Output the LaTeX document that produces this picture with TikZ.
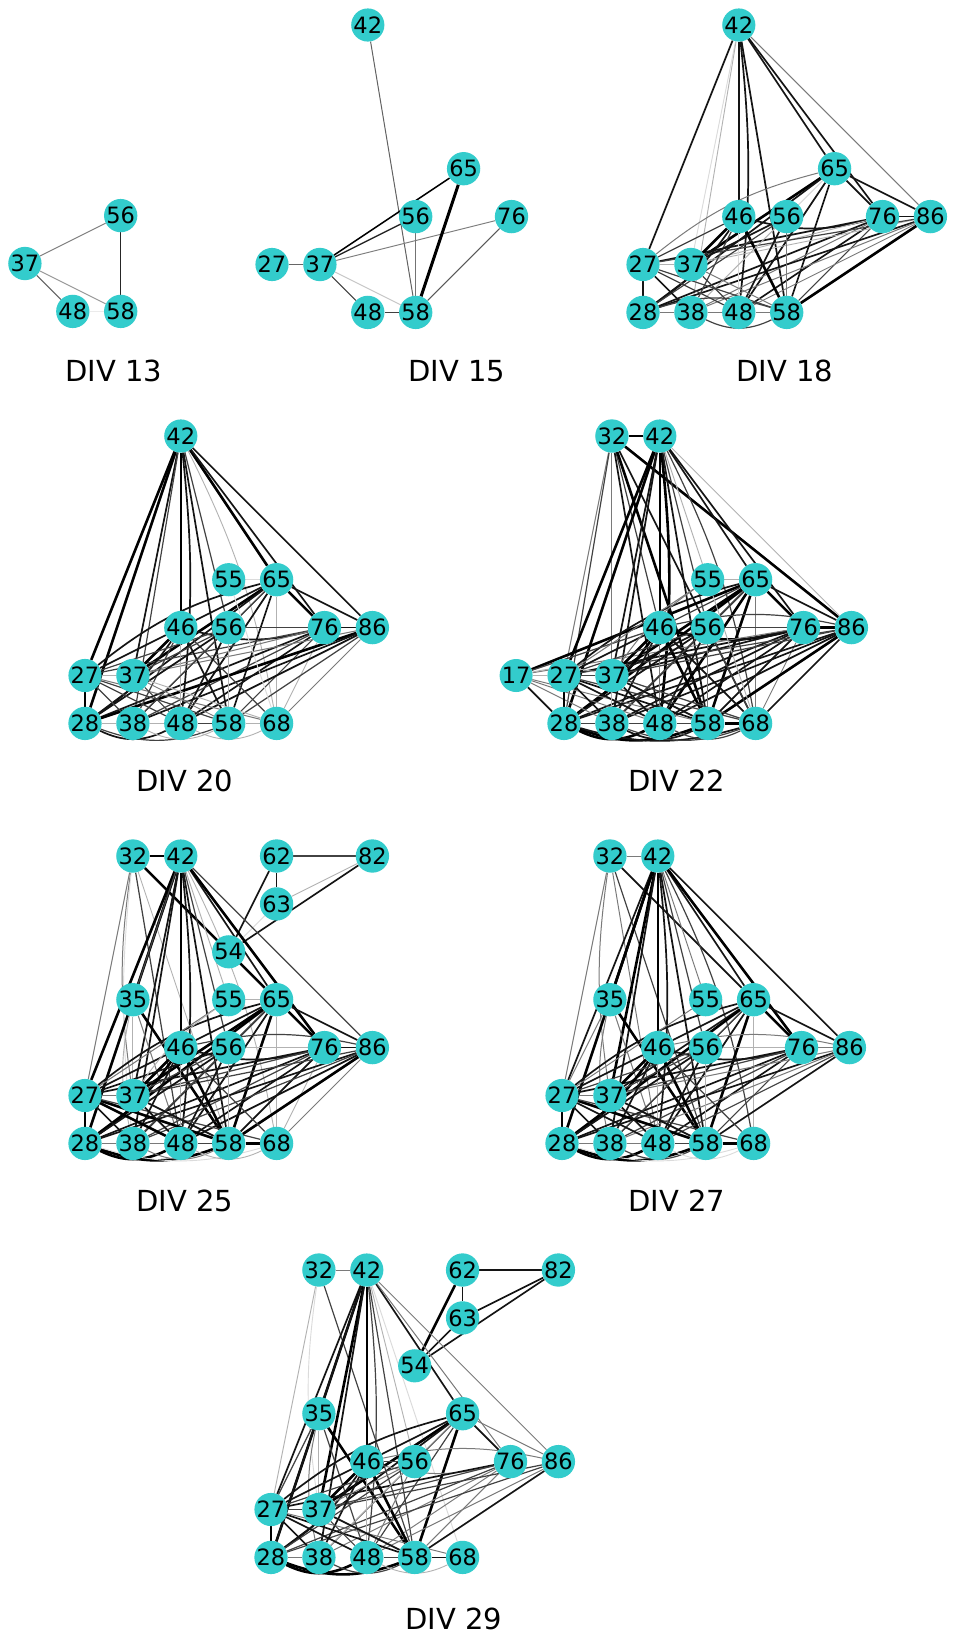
\documentclass[tikz,border=0pt]{standalone}
\usepackage{fontspec}
\setmainfont{DejaVu Sans}
\pgfdeclarelayer{bgl}
\pgfdeclarelayer{edges}
\pgfsetlayers{bgl,edges,main}
\definecolor{turq}{RGB}{51,204,204}
\tikzset{
 nd/.style={circle,fill=turq,inner sep=0pt,minimum size=30.5pt,font=\fontsize{22.5}{23}\selectfont,text=black},
 lab/.style={font=\fontsize{29}{30}\selectfont,anchor=base},
 e1/.style={line width=2.6pt,black},
 e2/.style={line width=1.7pt,black!92},
 e3/.style={line width=1.2pt,black!74},
 e4/.style={line width=1pt,black!52},
 e5/.style={line width=0.9pt,black!30},
 e6/.style={line width=0.9pt,black!14},
}
\newcommand\pfx{a}
\newcommand\oxx{0}
\newcommand\oyy{0}
\newcommand\nod[2]{\node[nd] (\pfx#1#2) at ({\oxx+(#1-2)*47.9},{-(\oyy+(#2-2)*47.9)}) {#1#2};}
\newcommand\edg[3]{\draw[#1] (\pfx#2) -- (\pfx#3);}
\newcommand\bnd[4]{\draw[#2] (\pfx#3) to[bend #1] (\pfx#4);}
\begin{document}
\begin{tikzpicture}[x=1pt,y=1pt]
\useasboundingbox (0,0) rectangle (957,-1639);
\begin{pgfonlayer}{bgl}
\fill[white] (0,0) rectangle (957,-1639);
\end{pgfonlayer}
% ---------------- DIV 13
\renewcommand\pfx{a}\renewcommand\oxx{-23}\renewcommand\oyy{24}
\nod56\nod37\nod48\nod58
\begin{pgfonlayer}{edges}
\draw[line width=1pt,black!50] (a37) -- (a56);
\draw[line width=1pt,black!40] (a37) -- (a58);
\draw[line width=1.1pt,black!62] (a37) -- (a48);
\draw[line width=1.4pt,black!8] (a48) -- (a58);
\draw[line width=1.3pt,black!85] (a56) -- (a58);
\end{pgfonlayer}
\node[lab] (l13) at (114,-381) {DIV 13};
% ---------------- DIV 15
\renewcommand\pfx{b}\renewcommand\oxx{272}\renewcommand\oyy{25}
\nod42\nod65\nod56\nod76\nod27\nod37\nod48\nod58
\begin{pgfonlayer}{edges}
\draw[line width=1pt,black!62] (b42) -- (b58);
\draw[line width=1.5pt,black] (b37) -- (b65);
\draw[line width=1.3pt,black!85] (b37) -- (b56);
\draw[line width=1pt,black!50] (b37) -- (b76);
\draw[line width=1pt,black!60] (b27) -- (b37);
\draw[line width=1pt,black!22] (b37) -- (b58);
\draw[line width=1.2pt,black!75] (b37) -- (b48);
\draw[line width=1.2pt,black!75] (b48) -- (b58);
\draw[line width=1.1pt,black!55] (b56) -- (b58);
\draw[line width=3pt,black] (b58) -- (b65);
\draw[line width=1pt,black!65] (b58) -- (b76);
\end{pgfonlayer}
\node[lab] (l15) at (457,-381) {DIV 15};
% ---------------- DIV 18
\renewcommand\pfx{c}\renewcommand\oxx{643}\renewcommand\oyy{25}
\nod42\nod65\nod46\nod56\nod76\nod86\nod27\nod37\nod28\nod38\nod48\nod58
\begin{pgfonlayer}{edges}
\edg{e2}{42}{27}\edg{e6}{42}{37}\edg{e5}{42}{38}\edg{e2}{42}{46}
\bnd{left=6}{e2}{42}{48}\edg{e2}{42}{58}\edg{e2}{42}{65}\edg{e2}{42}{76}\edg{e4}{42}{86}
\bnd{left=12}{e4}{27}{65}\edg{e1}{65}{37}\edg{e2}{65}{28}\edg{e6}{65}{38}\edg{e2}{65}{48}
\edg{e2}{65}{58}\edg{e2}{65}{76}\edg{e2}{65}{86}\edg{e6}{65}{56}
\edg{e2}{76}{86}\bnd{right=14}{e2}{46}{76}\edg{e2}{76}{27}\edg{e5}{76}{37}\edg{e2}{76}{28}
\edg{e4}{76}{38}\edg{e2}{76}{48}\edg{e3}{76}{58}
\edg{e2}{86}{28}\edg{e5}{86}{37}\edg{e4}{86}{38}\edg{e4}{86}{48}\edg{e1}{86}{58}\edg{e3}{86}{27}
\edg{e1}{46}{37}\bnd{right=10}{e2}{28}{46}\edg{e3}{46}{38}\edg{e1}{46}{58}\edg{e6}{46}{48}\edg{e3}{46}{27}
\edg{e2}{56}{37}\edg{e3}{56}{28}\edg{e2}{56}{48}\edg{e4}{56}{58}\edg{e5}{56}{38}
\edg{e2}{27}{28}\edg{e5}{27}{37}\edg{e2}{27}{38}\edg{e3}{27}{48}\edg{e3}{27}{58}
\edg{e4}{28}{38}\bnd{left=17}{e3}{28}{58}\bnd{right=26}{e3}{38}{58}\edg{e4}{38}{48}\edg{e4}{48}{58}
\edg{e3}{37}{48}\edg{e4}{37}{58}
\end{pgfonlayer}
\node[lab] (l18) at (785,-381) {DIV 18};
% ---------------- DIV 20
\renewcommand\pfx{d}\renewcommand\oxx{85}\renewcommand\oyy{436}
\nod42\nod55\nod65\nod46\nod56\nod76\nod86\nod27\nod37\nod28\nod38\nod48\nod58\nod68
\begin{pgfonlayer}{edges}
\edg{e1}{42}{27}\edg{e1}{42}{28}\edg{e2}{42}{37}\edg{e3}{42}{38}\edg{e1}{42}{46}
\bnd{left=6}{e2}{42}{48}\edg{e2}{42}{58}\edg{e3}{42}{56}\bnd{left=8}{e5}{42}{68}
\edg{e1}{42}{65}\edg{e2}{42}{76}\edg{e2}{42}{86}
\edg{e6}{55}{65}\bnd{left=12}{e2}{27}{65}\edg{e1}{65}{37}\edg{e2}{65}{28}\edg{e2}{65}{46}
\edg{e3}{65}{56}\edg{e3}{65}{38}\edg{e2}{65}{48}\edg{e2}{65}{58}\edg{e5}{65}{68}
\edg{e1}{65}{76}\edg{e2}{65}{86}
\edg{e2}{76}{86}\edg{e3}{76}{56}\bnd{right=14}{e2}{46}{76}\edg{e3}{76}{27}\edg{e4}{76}{37}
\edg{e2}{76}{28}\edg{e3}{76}{38}\edg{e2}{76}{48}\edg{e3}{76}{58}\edg{e5}{76}{68}
\edg{e1}{86}{28}\edg{e2}{86}{38}\edg{e2}{86}{48}\edg{e3}{86}{58}\edg{e4}{86}{68}\edg{e4}{86}{37}
\edg{e2}{46}{27}\edg{e1}{46}{37}\bnd{right=10}{e2}{28}{46}\edg{e3}{46}{38}\edg{e5}{46}{48}
\edg{e2}{46}{58}\edg{e3}{46}{68}
\edg{e3}{56}{27}\edg{e3}{56}{37}\edg{e2}{56}{28}\edg{e2}{56}{48}\edg{e5}{56}{58}\edg{e3}{56}{38}
\edg{e6}{55}{68}
\edg{e1}{27}{28}\edg{e5}{27}{37}\edg{e3}{27}{38}\edg{e3}{27}{48}\edg{e3}{27}{58}\edg{e4}{27}{68}
\edg{e5}{28}{38}\bnd{right=26}{e2}{28}{48}\bnd{right=20}{e3}{28}{58}
\edg{e3}{37}{48}\edg{e4}{37}{58}\edg{e5}{37}{68}
\edg{e5}{38}{48}\bnd{right=26}{e5}{38}{58}\edg{e3}{48}{58}\edg{e5}{58}{68}\bnd{right=26}{e5}{48}{68}
\end{pgfonlayer}
\node[lab] (l20) at (185,-791) {DIV 20};
% ---------------- DIV 22
\renewcommand\pfx{e}\renewcommand\oxx{564}\renewcommand\oyy{436}
\nod32\nod42\nod55\nod65\nod46\nod56\nod76\nod86\nod17\nod27\nod37\nod28\nod38\nod48\nod58\nod68
\begin{pgfonlayer}{edges}
\edg{e1}{32}{42}\edg{e4}{32}{27}\edg{e3}{32}{28}\edg{e4}{32}{37}\edg{e3}{32}{46}
\edg{e2}{32}{48}\edg{e1}{32}{58}\edg{e2}{32}{68}\edg{e1}{32}{86}
\edg{e1}{42}{27}\edg{e1}{42}{28}\edg{e2}{42}{37}\edg{e2}{42}{38}\edg{e1}{42}{46}
\bnd{left=6}{e1}{42}{48}\edg{e2}{42}{58}\edg{e3}{42}{56}\edg{e5}{42}{55}\bnd{left=8}{e3}{42}{68}
\edg{e2}{42}{65}\edg{e2}{42}{76}\edg{e5}{42}{86}
\edg{e5}{55}{65}\edg{e1}{17}{65}\bnd{left=12}{e2}{27}{65}\edg{e1}{65}{37}\edg{e1}{65}{28}
\edg{e2}{65}{38}\edg{e1}{65}{48}\edg{e1}{65}{58}\edg{e4}{65}{68}\edg{e1}{65}{76}\edg{e2}{65}{86}
\edg{e3}{65}{46}\edg{e3}{65}{56}
\edg{e1}{76}{86}\bnd{right=14}{e1}{46}{76}\edg{e3}{76}{56}\edg{e2}{76}{27}\edg{e2}{76}{37}
\edg{e2}{76}{28}\edg{e2}{76}{38}\edg{e2}{76}{48}\edg{e2}{76}{58}\edg{e4}{76}{68}\edg{e4}{76}{17}
\edg{e2}{86}{28}\edg{e2}{86}{38}\edg{e2}{86}{48}\edg{e1}{86}{58}\edg{e2}{86}{68}\edg{e3}{86}{37}
\edg{e3}{86}{27}\bnd{left=12}{e3}{46}{86}
\edg{e3}{46}{17}\edg{e2}{46}{27}\edg{e1}{46}{37}\bnd{right=10}{e1}{28}{46}\edg{e2}{46}{38}
\edg{e4}{46}{48}\edg{e1}{46}{58}\edg{e2}{46}{68}
\edg{e3}{56}{27}\edg{e2}{56}{37}\edg{e2}{56}{28}\edg{e3}{56}{38}\edg{e2}{56}{48}\edg{e4}{56}{58}
\edg{e3}{56}{68}
\edg{e4}{55}{27}\bnd{left=10}{e4}{37}{55}\edg{e5}{55}{68}
\edg{e5}{17}{27}\bnd{left=12}{e5}{17}{37}\edg{e2}{17}{28}\edg{e4}{17}{38}\edg{e4}{17}{48}\edg{e4}{17}{58}
\edg{e1}{27}{28}\edg{e3}{27}{37}\edg{e2}{27}{38}\edg{e2}{27}{48}\edg{e2}{27}{58}\edg{e3}{27}{68}
\edg{e5}{37}{38}\edg{e2}{37}{48}\edg{e2}{37}{58}\edg{e3}{37}{68}
\edg{e3}{28}{38}\bnd{right=26}{e1}{28}{48}\bnd{right=20}{e1}{28}{58}\bnd{right=16}{e2}{28}{68}
\edg{e3}{38}{48}\bnd{right=26}{e2}{38}{58}\bnd{right=20}{e3}{38}{68}
\edg{e3}{48}{58}\bnd{right=26}{e3}{48}{68}\edg{e1}{58}{68}
\end{pgfonlayer}
\node[lab] (l22) at (677,-791) {DIV 22};
% ---------------- DIV 25
\renewcommand\pfx{f}\renewcommand\oxx{85}\renewcommand\oyy{856}
\nod32\nod42\nod62\nod82\nod63\nod54\nod35\nod55\nod65\nod46\nod56\nod76\nod86
\nod27\nod37\nod28\nod38\nod48\nod58\nod68
\begin{pgfonlayer}{edges}
\edg{e3}{62}{82}\edg{e2}{62}{63}\edg{e2}{62}{54}\edg{e5}{63}{82}\edg{e2}{54}{82}\edg{e6}{54}{63}
\edg{e1}{32}{42}\edg{e4}{32}{27}\bnd{right=8}{e4}{32}{37}\edg{e3}{32}{48}\edg{e1}{32}{65}
\edg{e5}{32}{58}\bnd{right=6}{e6}{32}{38}
\edg{e1}{42}{27}\edg{e1}{42}{28}\edg{e3}{42}{35}\edg{e2}{42}{37}\edg{e2}{42}{38}\edg{e1}{42}{46}
\bnd{left=6}{e2}{42}{48}\edg{e2}{42}{58}\edg{e3}{42}{56}\edg{e5}{42}{55}\bnd{left=8}{e5}{42}{68}
\edg{e2}{42}{65}\edg{e1}{42}{76}\edg{e3}{42}{86}
\edg{e1}{35}{58}\edg{e5}{35}{37}\bnd{right=12}{e5}{35}{38}\edg{e4}{35}{48}
\edg{e5}{55}{65}\bnd{left=12}{e2}{27}{65}\edg{e1}{65}{37}\edg{e1}{65}{28}\edg{e2}{65}{38}
\edg{e2}{65}{46}\edg{e3}{65}{56}\edg{e2}{65}{48}\edg{e1}{65}{58}\edg{e5}{65}{68}\edg{e1}{65}{76}
\edg{e2}{65}{86}
\edg{e2}{76}{86}\bnd{right=14}{e2}{46}{76}\edg{e5}{76}{56}\edg{e2}{76}{27}\edg{e3}{76}{37}
\edg{e2}{76}{28}\edg{e3}{76}{38}\edg{e2}{76}{48}\edg{e2}{76}{58}\edg{e5}{76}{68}
\edg{e2}{86}{28}\edg{e3}{86}{38}\edg{e2}{86}{48}\edg{e1}{86}{58}\edg{e4}{86}{68}\edg{e3}{86}{37}
\bnd{left=12}{e3}{46}{86}
\edg{e2}{46}{27}\edg{e1}{46}{37}\bnd{right=10}{e1}{28}{46}\edg{e2}{46}{38}\edg{e1}{46}{58}
\edg{e5}{46}{48}\edg{e3}{46}{68}
\edg{e2}{56}{27}\edg{e3}{56}{37}\edg{e2}{56}{28}\edg{e3}{56}{38}\edg{e2}{56}{48}\edg{e5}{56}{58}
\edg{e4}{55}{27}\bnd{left=10}{e5}{37}{55}
\edg{e1}{27}{28}\edg{e4}{27}{37}\edg{e2}{27}{38}\edg{e1}{27}{48}\edg{e1}{27}{58}\edg{e3}{27}{68}
\edg{e4}{28}{38}\bnd{right=26}{e1}{28}{48}\bnd{right=20}{e1}{28}{58}\bnd{right=16}{e6}{28}{68}
\edg{e2}{37}{48}\edg{e2}{37}{58}\edg{e4}{38}{48}\bnd{right=26}{e4}{38}{58}
\edg{e3}{48}{58}\edg{e1}{58}{68}\bnd{right=26}{e5}{48}{68}
\end{pgfonlayer}
\node[lab] (l25) at (185,-1211) {DIV 25};
% ---------------- DIV 27
\renewcommand\pfx{g}\renewcommand\oxx{562}\renewcommand\oyy{856}
\nod32\nod42\nod35\nod55\nod65\nod46\nod56\nod76\nod86\nod27\nod37\nod28\nod38\nod48\nod58\nod68
\begin{pgfonlayer}{edges}
\edg{e4}{32}{42}\edg{e4}{32}{27}\bnd{right=8}{e4}{32}{37}\edg{e2}{32}{65}\edg{e3}{32}{58}\edg{e4}{32}{48}
\edg{e2}{42}{27}\edg{e1}{42}{28}\edg{e1}{42}{35}\edg{e1}{42}{37}\edg{e2}{42}{38}\edg{e1}{42}{46}
\bnd{left=6}{e2}{42}{48}\edg{e2}{42}{58}\edg{e3}{42}{56}\edg{e4}{42}{55}\bnd{left=8}{e3}{42}{68}
\edg{e2}{42}{65}\edg{e1}{42}{76}\edg{e2}{42}{86}
\edg{e4}{35}{27}\edg{e1}{35}{58}\bnd{right=12}{e4}{35}{38}\edg{e4}{35}{48}
\bnd{left=12}{e2}{27}{65}\edg{e2}{65}{37}\edg{e1}{65}{28}\edg{e3}{65}{38}\edg{e2}{65}{46}
\edg{e3}{65}{56}\edg{e2}{65}{48}\edg{e1}{65}{58}\edg{e5}{65}{68}\edg{e1}{65}{76}\edg{e2}{65}{86}
\edg{e4}{76}{86}\bnd{right=14}{e2}{46}{76}\edg{e5}{76}{56}\edg{e2}{76}{27}\edg{e3}{76}{37}
\edg{e2}{76}{28}\edg{e3}{76}{38}\edg{e2}{76}{48}\edg{e3}{76}{58}
\edg{e2}{86}{28}\edg{e4}{86}{38}\edg{e3}{86}{48}\edg{e2}{86}{58}\edg{e4}{86}{37}
\bnd{left=12}{e4}{46}{86}
\edg{e2}{46}{27}\edg{e1}{46}{37}\bnd{right=10}{e1}{28}{46}\edg{e2}{46}{38}\edg{e1}{46}{58}
\edg{e5}{46}{48}\edg{e3}{46}{68}
\edg{e3}{56}{27}\edg{e3}{56}{37}\edg{e2}{56}{28}\edg{e3}{56}{38}\edg{e2}{56}{48}\edg{e5}{56}{58}
\edg{e4}{55}{27}
\edg{e1}{27}{28}\edg{e4}{27}{37}\edg{e2}{27}{38}\edg{e2}{27}{48}\edg{e1}{27}{58}\edg{e3}{27}{68}
\edg{e4}{28}{38}\bnd{right=26}{e1}{28}{48}\bnd{right=20}{e1}{28}{58}\bnd{right=16}{e6}{28}{68}
\edg{e2}{37}{48}\edg{e2}{37}{58}\edg{e4}{38}{48}\bnd{right=26}{e3}{38}{58}
\edg{e3}{48}{58}\edg{e1}{58}{68}\bnd{right=26}{e6}{48}{68}
\end{pgfonlayer}
\node[lab] (l27) at (677,-1211) {DIV 27};
% ---------------- DIV 29
\renewcommand\pfx{h}\renewcommand\oxx{271}\renewcommand\oyy{1270}
\nod32\nod42\nod62\nod82\nod63\nod54\nod35\nod65\nod46\nod56\nod76\nod86
\nod27\nod37\nod28\nod38\nod48\nod58\nod68
\begin{pgfonlayer}{edges}
\edg{e2}{62}{82}\edg{e2}{62}{63}\edg{e1}{62}{54}\edg{e2}{63}{82}\edg{e2}{63}{54}\edg{e2}{54}{82}
\edg{e4}{32}{42}\edg{e5}{32}{27}\bnd{right=8}{e6}{32}{37}\edg{e3}{32}{58}
\edg{e2}{42}{27}\edg{e1}{42}{28}\edg{e2}{42}{35}\edg{e1}{42}{37}\edg{e2}{42}{38}\edg{e1}{42}{46}
\bnd{left=6}{e3}{42}{48}\edg{e3}{42}{58}\edg{e5}{42}{56}\edg{e2}{42}{65}\edg{e4}{42}{76}
\edg{e4}{42}{86}\edg{e6}{42}{68}
\edg{e3}{35}{27}\edg{e2}{35}{28}\edg{e5}{35}{37}\bnd{right=12}{e4}{35}{38}\edg{e1}{35}{58}\edg{e3}{35}{48}
\bnd{left=12}{e2}{27}{65}\edg{e1}{65}{37}\edg{e2}{65}{28}\edg{e3}{65}{38}\edg{e2}{65}{46}
\edg{e4}{65}{56}\edg{e3}{65}{48}\edg{e1}{65}{58}\edg{e2}{65}{76}\edg{e4}{65}{86}
\bnd{right=14}{e4}{46}{76}\edg{e2}{76}{27}\edg{e3}{76}{37}\edg{e3}{76}{28}\edg{e4}{76}{38}
\edg{e4}{76}{48}\edg{e4}{76}{58}
\edg{e3}{86}{28}\edg{e3}{86}{37}\edg{e2}{86}{58}\edg{e4}{86}{48}\bnd{left=12}{e4}{46}{86}
\edg{e3}{46}{56}\edg{e2}{46}{27}\edg{e1}{46}{37}\bnd{right=10}{e2}{28}{46}\edg{e2}{46}{38}
\edg{e1}{46}{58}\edg{e5}{46}{48}
\edg{e3}{56}{27}\edg{e3}{56}{28}\edg{e4}{56}{37}\edg{e4}{56}{48}\edg{e5}{56}{38}
\edg{e1}{27}{28}\edg{e3}{27}{37}\edg{e2}{27}{38}\edg{e2}{27}{48}\edg{e2}{27}{58}\edg{e4}{27}{68}
\edg{e4}{28}{38}\bnd{right=26}{e1}{28}{48}\bnd{right=20}{e1}{28}{58}
\edg{e3}{37}{48}\edg{e2}{37}{58}\bnd{right=26}{e3}{38}{58}
\edg{e3}{48}{58}\edg{e2}{58}{68}\bnd{right=26}{e5}{48}{68}
\end{pgfonlayer}
\node[lab] (l29) at (454,-1629) {DIV 29};
\end{tikzpicture}
\end{document}
